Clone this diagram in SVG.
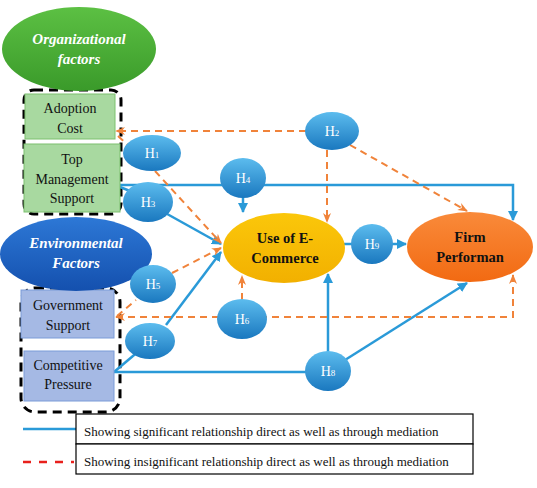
<svg xmlns="http://www.w3.org/2000/svg" width="537" height="488" viewBox="0 0 537 488" font-family="Liberation Serif, Times New Roman, DejaVu Serif, serif">
<defs>
<linearGradient id="gH" x1="0" y1="0" x2="0" y2="1"><stop offset="0" stop-color="#5cbcee"/><stop offset="1" stop-color="#1a78bf"/></linearGradient>
<linearGradient id="gG" x1="0" y1="0" x2="0" y2="1"><stop offset="0" stop-color="#5cc043"/><stop offset="1" stop-color="#3a9a2a"/></linearGradient>
<linearGradient id="gE" x1="0" y1="0" x2="0" y2="1"><stop offset="0" stop-color="#2d78d6"/><stop offset="1" stop-color="#1450ae"/></linearGradient>
<linearGradient id="gU" x1="0" y1="0" x2="0" y2="1"><stop offset="0" stop-color="#fbc70a"/><stop offset="1" stop-color="#f2b000"/></linearGradient>
<linearGradient id="gF" x1="0" y1="0" x2="0" y2="1"><stop offset="0" stop-color="#f98a3a"/><stop offset="1" stop-color="#f26a12"/></linearGradient>
<marker id="ab" viewBox="0 0 10 10" refX="9" refY="5" markerWidth="4" markerHeight="4" orient="auto-start-reverse"><path d="M0,0 L10,5 L0,10 z" fill="#2a9ad8"/></marker>
<marker id="ao" viewBox="0 0 10 10" refX="9" refY="5" markerWidth="5" markerHeight="5" orient="auto-start-reverse"><path d="M0,1 L10,5 L0,9 L3,5 z" fill="#f0833a"/></marker>
</defs>
<style>
.grp{fill:none;stroke:#000;stroke-width:3;stroke-dasharray:9,6}
.bl{fill:none;stroke:#2a9ad8;stroke-width:2.5}
.or{fill:none;stroke:#f0833a;stroke-width:2;stroke-dasharray:7,5}
.t{font-size:14px;fill:#111;text-anchor:middle}
.th{font-size:15px;font-weight:bold;font-style:italic;fill:#fff;text-anchor:middle}
.tb{font-size:14.5px;font-weight:bold;fill:#111;text-anchor:middle}
.h{font-size:14px;fill:#fff;text-anchor:middle}
.h tspan{font-size:9px}
.hl{fill:url(#gH)}
.lg{font-size:13px;fill:#111}
</style>
<g id="groups">
<rect class="grp" x="24" y="90" width="97" height="124" rx="10"/>
<rect class="grp" x="21" y="288" width="99" height="124" rx="14"/>
</g>
<g id="connectors">
<path class="bl" d="M115,185 H513 V220" marker-end="url(#ab)"/>
<path class="bl" d="M115,185 L135,193"/>
<path class="bl" d="M160,210 L221,244" marker-end="url(#ab)"/>
<path class="bl" d="M243,197 V212" marker-end="url(#ab)"/>
<path class="bl" d="M114,372 L140,350"/>
<path class="bl" d="M166,325 L221,252" marker-end="url(#ab)"/>
<path class="bl" d="M114,372 H310"/>
<path class="bl" d="M328,352 V274" marker-end="url(#ab)"/>
<path class="bl" d="M345,360 L467,283" marker-end="url(#ab)"/>
<path class="bl" d="M344,244 H355"/>
<path class="bl" d="M392,244 H406" marker-end="url(#ab)"/>
<path class="or" d="M306,131 H116" marker-end="url(#ao)"/>
<path class="or" d="M118,136 L130,147"/>
<path class="or" d="M155,171 L221,243" marker-end="url(#ao)"/>
<path class="or" d="M327,150 V222" marker-end="url(#ao)"/>
<path class="or" d="M350,145 L467,211" marker-end="url(#ao)"/>
<path class="or" d="M117,316 L136,300"/>
<path class="or" d="M172,273 L221,248" marker-end="url(#ao)"/>
<path class="or" d="M116,317 H513 V275" marker-start="url(#ao)" marker-end="url(#ao)"/>
<path class="or" d="M242,300 V276" marker-end="url(#ao)"/>
</g>
<g id="adoption-cost">
<rect x="25" y="94" width="90" height="45" fill="#a8d9a0" stroke="#7cc06f" stroke-width="1"/>
<text class="t" x="70" y="113">Adoption</text>
<text class="t" x="70" y="133">Cost</text>
</g>
<g id="top-management-support">
<rect x="24" y="144" width="96" height="68" fill="#a8d9a0" stroke="#7cc06f" stroke-width="1"/>
<text class="t" x="72" y="164">Top</text>
<text class="t" x="72" y="184">Management</text>
<text class="t" x="72" y="203">Support</text>
</g>
<g id="organizational-factors">
<ellipse cx="79" cy="49" rx="77" ry="42" fill="url(#gG)"/>
<text class="th" x="79" y="44">Organizational</text>
<text class="th" x="79" y="64">factors</text>
</g>
<g id="government-support">
<rect x="21" y="290" width="93" height="48" fill="#a5b9e4" stroke="#7b9bd8" stroke-width="1"/>
<text class="t" x="68" y="310">Government</text>
<text class="t" x="68" y="330">Support</text>
</g>
<g id="competitive-pressure">
<rect x="24" y="351" width="90" height="50" fill="#a5b9e4" stroke="#7b9bd8" stroke-width="1"/>
<text class="t" x="68" y="370">Competitive</text>
<text class="t" x="68" y="389">Pressure</text>
</g>
<g id="environmental-factors">
<ellipse cx="76" cy="254" rx="76" ry="37" fill="url(#gE)"/>
<text class="th" x="76" y="248">Environmental</text>
<text class="th" x="76" y="268">Factors</text>
</g>
<g id="use-of-ecommerce">
<ellipse cx="284" cy="248" rx="61" ry="35" fill="url(#gU)"/>
<text class="tb" x="285" y="243">Use of E-</text>
<text class="tb" x="285" y="263">Commerce</text>
</g>
<g id="firm-performance">
<ellipse cx="470" cy="247" rx="63" ry="35" fill="url(#gF)"/>
<text class="tb" x="470" y="242">Firm</text>
<text class="tb" x="470" y="262">Performan</text>
</g>
<g id="h1"><ellipse class="hl" cx="152" cy="153" rx="29" ry="18"/><text class="h" x="152" y="158">H<tspan>1</tspan></text></g>
<g id="h2"><ellipse class="hl" cx="332" cy="131" rx="27" ry="19"/><text class="h" x="332" y="136">H<tspan>2</tspan></text></g>
<g id="h3"><ellipse class="hl" cx="148" cy="202" rx="25" ry="20"/><text class="h" x="148" y="207">H<tspan>3</tspan></text></g>
<g id="h4"><ellipse class="hl" cx="243" cy="178" rx="23" ry="20"/><text class="h" x="243" y="183">H<tspan>4</tspan></text></g>
<g id="h5"><ellipse class="hl" cx="153" cy="284" rx="23" ry="19"/><text class="h" x="153" y="289">H<tspan>5</tspan></text></g>
<g id="h6"><ellipse class="hl" cx="242" cy="319" rx="25" ry="20"/><text class="h" x="242" y="324">H<tspan>6</tspan></text></g>
<g id="h7"><ellipse class="hl" cx="150" cy="341" rx="25" ry="18"/><text class="h" x="150" y="346">H<tspan>7</tspan></text></g>
<g id="h8"><ellipse class="hl" cx="328" cy="371" rx="23" ry="20"/><text class="h" x="328" y="376">H<tspan>8</tspan></text></g>
<g id="h9"><ellipse class="hl" cx="372" cy="244" rx="21" ry="20"/><text class="h" x="372" y="249">H<tspan>9</tspan></text></g>
<g id="legend">
<line x1="23" y1="429" x2="77" y2="429" stroke="#2a9ad8" stroke-width="2.5"/>
<line x1="23" y1="462" x2="74" y2="462" stroke="#e8201c" stroke-width="2.5" stroke-dasharray="8,8"/>
<rect x="76" y="414" width="397" height="30" fill="#fff" stroke="#000" stroke-width="1.2"/>
<rect x="76" y="444" width="397" height="30" fill="#fff" stroke="#000" stroke-width="1.2"/>
<text class="lg" x="84" y="436">Showing significant relationship direct as well as through mediation</text>
<text class="lg" x="84" y="466">Showing insignificant relationship direct as well as through mediation</text>
</g>
</svg>
